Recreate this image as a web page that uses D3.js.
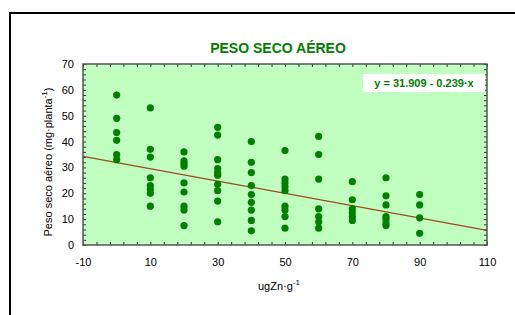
<!DOCTYPE html>
<html>
<head>
<meta charset="utf-8">
<script src="https://cdn.jsdelivr.net/npm/d3@7"></script>
<style>
  body { margin: 0; background: #fff; }
  svg { display: block; font-family: "Liberation Sans", Arial, sans-serif; }
</style>
</head>
<body>
<div id="chart"></div>
<script>
// DATA
const doses = [0, 10, 20, 30, 40, 50, 60, 70, 80, 90];
const peso0 = [58, 49, 43.5, 40.5, 35, 33];
const peso10 = [53, 37, 34, 26, 23, 21.5, 20, 15];
const peso20 = [36, 32.5, 31.5, 30.5, 24, 20.5, 15, 13.5, 7.5];
const peso30 = [45.5, 42.5, 33, 29.5, 28, 27, 23.5, 21, 17, 9];
const peso40 = [40, 32, 28, 23, 19.5, 16.5, 13.5, 9.5, 5.5];
const peso50 = [36.5, 25.5, 24, 22.5, 21, 15, 13.5, 11, 6.5];
const peso60 = [42, 35, 25.5, 14, 11, 9, 6.5];
const peso70 = [24.5, 17.5, 14, 12.5, 11, 9.5];
const peso80 = [26, 19, 15.5, 11, 10, 8.5, 7.5];
const peso90 = [19.5, 15.5, 10.5, 4.5];
const pesoByDose = [peso0, peso10, peso20, peso30, peso40, peso50, peso60, peso70, peso80, peso90];
const xTicks = [-10, 10, 30, 50, 70, 90, 110];
const yTicks = [0, 10, 20, 30, 40, 50, 60, 70];
const intercept = 31.909;
const slope = -0.239;

const points = doses.flatMap((d, i) => pesoByDose[i].map(v => ({ x: d, y: v })));

// SVG
const W = 515, H = 315;
const plot = { left: 83, right: 487, top: 64, bottom: 245 };

const svg = d3.select("#chart").append("svg")
    .attr("width", W)
    .attr("height", H);

// outer frame
svg.append("rect")
    .attr("x", 10).attr("y", 13)
    .attr("width", W + 20).attr("height", H + 20)
    .attr("fill", "none")
    .attr("stroke", "#000")
    .attr("stroke-width", 2);

// SCALES
const x = d3.scaleLinear().domain([-10, 110]).range([plot.left, plot.right]);
const y = d3.scaleLinear().domain([0, 70]).range([plot.bottom, plot.top]);

// plot background
svg.append("rect")
    .attr("x", plot.left).attr("y", plot.top)
    .attr("width", plot.right - plot.left)
    .attr("height", plot.bottom - plot.top)
    .attr("fill", "#c0ffc0");

// regression line
svg.append("line")
    .attr("x1", x(-10)).attr("y1", y(intercept + slope * -10))
    .attr("x2", x(110)).attr("y2", y(intercept + slope * 110))
    .attr("stroke", "#9a4a1a")
    .attr("stroke-width", 1.3);

// points
svg.append("g").selectAll("circle")
    .data(points)
    .join("circle")
    .attr("cx", d => x(d.x))
    .attr("cy", d => y(d.y))
    .attr("r", 3.6)
    .attr("fill", "#008000");

// minor ticks on all sides
const minorX = d3.range(-10, 110.01, 4);
const minorY = d3.range(0, 70.01, 2);
svg.append("g")
    .attr("transform", `translate(0,${plot.bottom})`)
    .call(d3.axisTop(x).tickValues(minorX).tickSize(3).tickFormat(""))
    .call(g => g.select(".domain").remove());
svg.append("g")
    .attr("transform", `translate(0,${plot.top})`)
    .call(d3.axisBottom(x).tickValues(minorX).tickSize(3).tickFormat(""))
    .call(g => g.select(".domain").remove());
svg.append("g")
    .attr("transform", `translate(${plot.left},0)`)
    .call(d3.axisRight(y).tickValues(minorY).tickSize(3).tickFormat(""))
    .call(g => g.select(".domain").remove());
svg.append("g")
    .attr("transform", `translate(${plot.right},0)`)
    .call(d3.axisLeft(y).tickValues(minorY).tickSize(3).tickFormat(""))
    .call(g => g.select(".domain").remove());
svg.selectAll(".tick line").attr("stroke", "#333");

// plot border
svg.append("rect")
    .attr("x", plot.left).attr("y", plot.top)
    .attr("width", plot.right - plot.left)
    .attr("height", plot.bottom - plot.top)
    .attr("fill", "none")
    .attr("stroke", "#555")
    .attr("stroke-width", 1.5);

// tick labels
svg.append("g")
    .attr("transform", `translate(0,${plot.bottom})`)
    .call(d3.axisBottom(x).tickValues(xTicks).tickSize(0).tickPadding(13).tickFormat(d => String(d)))
    .call(g => g.select(".domain").remove())
    .selectAll("text")
    .attr("font-size", 11)
    .attr("font-family", "Liberation Sans, Arial, sans-serif")
    .attr("fill", "#000");
svg.append("g")
    .attr("transform", `translate(${plot.left},0)`)
    .call(d3.axisLeft(y).tickValues(yTicks).tickSize(0).tickPadding(9).tickFormat(d => String(d)))
    .call(g => g.select(".domain").remove())
    .selectAll("text")
    .attr("font-size", 11)
    .attr("font-family", "Liberation Sans, Arial, sans-serif")
    .attr("fill", "#000");

// title
svg.append("text")
    .attr("x", 278).attr("y", 53)
    .attr("text-anchor", "middle")
    .attr("font-size", 14)
    .attr("font-weight", "bold")
    .attr("fill", "#008000")
    .text("PESO SECO AÉREO");

// axis labels
const xl = svg.append("text")
    .attr("x", 279).attr("y", 290)
    .attr("text-anchor", "middle")
    .attr("font-size", 11)
    .text("ugZn·g");
xl.append("tspan").attr("dy", -5).attr("font-size", 8).text("-1");

const yl = svg.append("text")
    .attr("transform", "translate(52,162) rotate(-90)")
    .attr("text-anchor", "middle")
    .attr("font-size", 11)
    .text("Peso seco aéreo (mg·planta");
yl.append("tspan").attr("dy", -5).attr("font-size", 8).text("-1");
yl.append("tspan").attr("dy", 5).text(")");

// equation box
svg.append("rect")
    .attr("x", 363).attr("y", 74)
    .attr("width", 122).attr("height", 18)
    .attr("fill", "#fff");
svg.append("text")
    .attr("x", 424).attr("y", 87)
    .attr("text-anchor", "middle")
    .attr("font-size", 11)
    .attr("font-weight", "bold")
    .attr("fill", "#008000")
    .text(`y = ${intercept.toFixed(3)} - ${Math.abs(slope).toFixed(3)}·x`);
</script>
</body>
</html>
